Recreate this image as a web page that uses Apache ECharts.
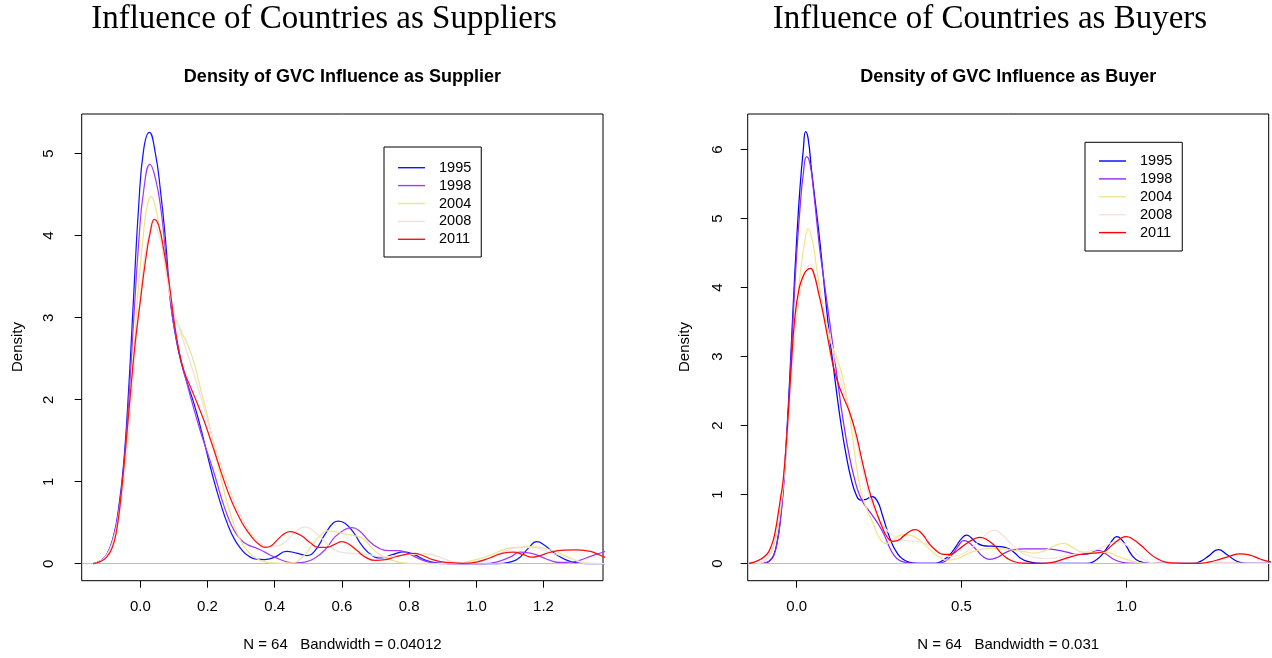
<!DOCTYPE html>
<html>
<head>
<meta charset="utf-8">
<script src="https://cdn.jsdelivr.net/npm/echarts@6/dist/echarts.min.js"></script>
<style>
  html, body { margin: 0; padding: 0; background: #ffffff; }
  #chart { width: 1272px; height: 658px; }
</style>
</head>
<body>
<div id="chart"></div>
<script>
// Series names shown in both legends
const years = ['1995', '1998', '2004', '2008', '2011'];

// Kernel density estimates of GVC influence as supplier: [influence, density]
const supplier1995 = [[-0.14,0],[-0.12,0.03],[-0.1,0.11],[-0.08,0.33],[-0.065,0.66],[-0.05,1.2],[-0.035,2.1],[-0.02,3.25],[-0.005,4.35],[0.01,5.05],[0.027,5.26],[0.045,5.0],[0.06,4.55],[0.075,3.95],[0.09,3.2],[0.105,2.78],[0.12,2.48],[0.14,2.2],[0.16,1.95],[0.18,1.65],[0.2,1.32],[0.22,1.0],[0.24,0.72],[0.26,0.48],[0.28,0.3],[0.3,0.18],[0.32,0.1],[0.345,0.055],[0.37,0.05],[0.4,0.08],[0.435,0.15],[0.465,0.13],[0.495,0.1],[0.52,0.16],[0.55,0.36],[0.575,0.5],[0.59,0.52],[0.61,0.49],[0.635,0.38],[0.66,0.22],[0.69,0.1],[0.715,0.07],[0.75,0.11],[0.785,0.145],[0.815,0.11],[0.85,0.04],[0.88,0.01],[0.92,0],[1.06,0],[1.1,0.02],[1.13,0.08],[1.155,0.19],[1.18,0.27],[1.205,0.22],[1.235,0.12],[1.265,0.05],[1.3,0.01],[1.33,0],[1.4,0]];
const supplier1998 = [[-0.14,0],[-0.12,0.03],[-0.1,0.11],[-0.08,0.32],[-0.065,0.63],[-0.05,1.15],[-0.035,1.95],[-0.02,2.95],[-0.005,3.9],[0.01,4.55],[0.029,4.87],[0.045,4.7],[0.062,4.3],[0.075,3.8],[0.088,3.25],[0.1,2.9],[0.12,2.5],[0.14,2.18],[0.16,1.88],[0.18,1.6],[0.2,1.35],[0.22,1.1],[0.24,0.82],[0.26,0.58],[0.28,0.4],[0.3,0.29],[0.32,0.23],[0.34,0.2],[0.36,0.165],[0.38,0.12],[0.4,0.08],[0.43,0.03],[0.46,0.01],[0.49,0.02],[0.52,0.07],[0.55,0.17],[0.58,0.33],[0.61,0.42],[0.63,0.44],[0.655,0.39],[0.68,0.28],[0.71,0.19],[0.74,0.16],[0.77,0.16],[0.8,0.12],[0.83,0.06],[0.86,0.02],[0.9,0],[1.02,0],[1.06,0.02],[1.1,0.08],[1.13,0.14],[1.16,0.13],[1.19,0.09],[1.22,0.04],[1.25,0.015],[1.28,0.02],[1.31,0.045],[1.34,0.09],[1.376,0.14],[1.42,0.2]];
const supplier2004 = [[-0.14,0],[-0.12,0.03],[-0.1,0.1],[-0.08,0.3],[-0.065,0.58],[-0.05,1.05],[-0.035,1.75],[-0.02,2.55],[-0.005,3.4],[0.01,4.05],[0.02,4.35],[0.032,4.48],[0.045,4.35],[0.06,4.0],[0.075,3.6],[0.09,3.25],[0.105,3.0],[0.12,2.85],[0.14,2.68],[0.16,2.45],[0.18,2.12],[0.2,1.8],[0.22,1.42],[0.24,1.05],[0.26,0.72],[0.28,0.46],[0.3,0.27],[0.32,0.15],[0.34,0.08],[0.36,0.035],[0.39,0.01],[0.42,0.004],[0.45,0.01],[0.48,0.07],[0.51,0.22],[0.535,0.34],[0.555,0.4],[0.58,0.39],[0.61,0.36],[0.64,0.34],[0.665,0.3],[0.69,0.19],[0.72,0.09],[0.75,0.04],[0.78,0.01],[0.82,0],[0.92,0],[0.96,0.015],[1.0,0.05],[1.04,0.1],[1.08,0.17],[1.12,0.2],[1.16,0.21],[1.2,0.19],[1.24,0.14],[1.28,0.07],[1.31,0.02],[1.34,0],[1.4,0]];
const supplier2008 = [[-0.14,0],[-0.12,0.03],[-0.1,0.1],[-0.08,0.28],[-0.065,0.53],[-0.05,0.95],[-0.035,1.55],[-0.02,2.3],[-0.005,3.05],[0.01,3.65],[0.025,4.0],[0.04,4.13],[0.055,4.02],[0.07,3.72],[0.085,3.35],[0.1,3.08],[0.12,2.82],[0.14,2.57],[0.17,2.17],[0.2,1.75],[0.23,1.33],[0.26,0.97],[0.29,0.66],[0.32,0.43],[0.35,0.28],[0.38,0.21],[0.41,0.22],[0.44,0.3],[0.465,0.4],[0.49,0.45],[0.515,0.4],[0.545,0.29],[0.575,0.18],[0.605,0.135],[0.64,0.125],[0.68,0.11],[0.72,0.085],[0.76,0.095],[0.8,0.11],[0.85,0.12],[0.89,0.08],[0.93,0.025],[0.97,0.01],[1.01,0.03],[1.05,0.09],[1.09,0.16],[1.13,0.2],[1.17,0.2],[1.21,0.15],[1.25,0.1],[1.29,0.05],[1.33,0.01],[1.4,0]];
const supplier2011 = [[-0.14,0],[-0.12,0.025],[-0.1,0.08],[-0.083,0.2],[-0.07,0.42],[-0.058,0.8],[-0.045,1.35],[-0.03,2.05],[-0.015,2.7],[0.0,3.2],[0.015,3.68],[0.03,4.05],[0.042,4.2],[0.055,4.12],[0.07,3.82],[0.085,3.45],[0.1,2.98],[0.115,2.6],[0.13,2.35],[0.15,2.15],[0.17,1.95],[0.19,1.74],[0.21,1.5],[0.23,1.25],[0.25,1.0],[0.27,0.78],[0.29,0.6],[0.31,0.45],[0.335,0.31],[0.355,0.23],[0.372,0.2],[0.39,0.22],[0.41,0.3],[0.43,0.37],[0.445,0.39],[0.46,0.38],[0.48,0.34],[0.505,0.26],[0.53,0.2],[0.555,0.2],[0.58,0.24],[0.6,0.27],[0.62,0.24],[0.645,0.16],[0.67,0.08],[0.7,0.04],[0.73,0.05],[0.76,0.085],[0.79,0.115],[0.815,0.125],[0.84,0.1],[0.87,0.05],[0.91,0.015],[0.96,0.005],[1.0,0.02],[1.04,0.07],[1.08,0.13],[1.11,0.14],[1.14,0.11],[1.165,0.08],[1.19,0.1],[1.22,0.14],[1.26,0.165],[1.3,0.17],[1.34,0.15],[1.37,0.1],[1.4,0.05]];

// Kernel density estimates of GVC influence as buyer: [influence, density]
const buyer1995 = [[-0.1,0],[-0.09,0.015],[-0.08,0.05],[-0.07,0.12],[-0.06,0.3],[-0.05,0.62],[-0.04,1.15],[-0.03,1.9],[-0.02,2.8],[-0.01,3.8],[0.0,4.7],[0.01,5.45],[0.02,6.0],[0.027,6.26],[0.035,6.15],[0.045,5.7],[0.06,5.1],[0.07,4.68],[0.08,4.2],[0.09,3.72],[0.1,3.28],[0.11,2.9],[0.12,2.52],[0.135,2.0],[0.15,1.57],[0.165,1.23],[0.18,1.0],[0.193,0.92],[0.21,0.93],[0.228,0.97],[0.245,0.9],[0.26,0.7],[0.275,0.47],[0.29,0.28],[0.305,0.15],[0.32,0.07],[0.34,0.02],[0.37,0],[0.42,0],[0.445,0.05],[0.465,0.13],[0.485,0.26],[0.5,0.36],[0.516,0.41],[0.53,0.37],[0.546,0.3],[0.565,0.26],[0.59,0.25],[0.617,0.245],[0.64,0.22],[0.66,0.16],[0.678,0.08],[0.7,0.03],[0.73,0.005],[0.76,0],[0.88,0],[0.905,0.04],[0.925,0.12],[0.945,0.25],[0.96,0.35],[0.971,0.39],[0.985,0.35],[1.0,0.25],[1.02,0.1],[1.04,0.03],[1.06,0.005],[1.09,0],[1.2,0],[1.225,0.03],[1.25,0.11],[1.279,0.2],[1.305,0.13],[1.325,0.06],[1.345,0.015],[1.37,0],[1.44,0]];
const buyer1998 = [[-0.1,0],[-0.09,0.015],[-0.08,0.045],[-0.07,0.11],[-0.06,0.28],[-0.05,0.6],[-0.04,1.1],[-0.03,1.8],[-0.02,2.7],[-0.01,3.65],[0.0,4.5],[0.01,5.15],[0.02,5.65],[0.03,5.9],[0.04,5.8],[0.05,5.45],[0.06,5.0],[0.07,4.55],[0.08,4.2],[0.09,3.85],[0.1,3.5],[0.11,3.15],[0.12,2.8],[0.14,2.1],[0.16,1.55],[0.177,1.2],[0.19,1.0],[0.207,0.84],[0.22,0.76],[0.232,0.68],[0.25,0.55],[0.265,0.42],[0.28,0.25],[0.295,0.12],[0.31,0.05],[0.33,0.015],[0.36,0],[0.43,0],[0.45,0.03],[0.47,0.12],[0.49,0.25],[0.506,0.33],[0.52,0.31],[0.545,0.2],[0.565,0.1],[0.586,0.06],[0.61,0.09],[0.63,0.15],[0.66,0.2],[0.69,0.21],[0.72,0.21],[0.76,0.21],[0.79,0.195],[0.82,0.165],[0.85,0.13],[0.875,0.13],[0.9,0.17],[0.915,0.19],[0.935,0.15],[0.955,0.08],[0.98,0.025],[1.01,0.005],[1.05,0],[1.44,0]];
const buyer2004 = [[-0.12,0],[-0.1,0.03],[-0.085,0.1],[-0.07,0.24],[-0.056,0.55],[-0.045,0.95],[-0.03,1.8],[-0.015,2.78],[0.0,3.68],[0.012,4.25],[0.024,4.65],[0.035,4.85],[0.047,4.7],[0.06,4.3],[0.075,3.85],[0.09,3.45],[0.105,3.18],[0.12,3.0],[0.135,2.78],[0.15,2.45],[0.165,2.0],[0.18,1.45],[0.195,1.05],[0.21,0.82],[0.23,0.6],[0.25,0.38],[0.27,0.29],[0.29,0.33],[0.31,0.4],[0.33,0.42],[0.355,0.39],[0.38,0.31],[0.405,0.2],[0.43,0.1],[0.455,0.05],[0.48,0.06],[0.51,0.12],[0.54,0.18],[0.57,0.21],[0.6,0.22],[0.63,0.21],[0.66,0.19],[0.69,0.17],[0.72,0.15],[0.75,0.18],[0.78,0.25],[0.81,0.29],[0.835,0.24],[0.86,0.17],[0.89,0.155],[0.92,0.165],[0.945,0.16],[0.97,0.11],[1.0,0.06],[1.03,0.02],[1.06,0],[1.44,0]];
const buyer2008 = [[-0.12,0],[-0.1,0.04],[-0.085,0.11],[-0.07,0.28],[-0.055,0.65],[-0.04,1.2],[-0.025,2.05],[-0.01,3.05],[0.005,3.75],[0.02,4.15],[0.033,4.3],[0.042,4.33],[0.055,4.18],[0.07,3.9],[0.085,3.6],[0.1,3.3],[0.12,2.9],[0.14,2.55],[0.16,2.2],[0.18,1.8],[0.2,1.35],[0.22,0.98],[0.24,0.72],[0.26,0.56],[0.28,0.45],[0.3,0.38],[0.33,0.33],[0.36,0.32],[0.39,0.29],[0.415,0.22],[0.44,0.14],[0.47,0.1],[0.5,0.13],[0.53,0.22],[0.56,0.36],[0.585,0.46],[0.6,0.48],[0.62,0.43],[0.647,0.3],[0.675,0.18],[0.7,0.12],[0.73,0.08],[0.76,0.07],[0.8,0.09],[0.84,0.13],[0.88,0.17],[0.92,0.22],[0.95,0.29],[0.971,0.32],[0.995,0.28],[1.02,0.19],[1.045,0.08],[1.07,0.02],[1.1,0],[1.44,0]];
const buyer2011 = [[-0.145,0],[-0.132,0.015],[-0.11,0.06],[-0.091,0.13],[-0.08,0.22],[-0.071,0.34],[-0.063,0.52],[-0.056,0.73],[-0.048,0.98],[-0.041,1.21],[-0.03,1.85],[-0.018,2.75],[-0.005,3.6],[0.008,4.0],[0.02,4.17],[0.03,4.25],[0.042,4.28],[0.052,4.2],[0.065,3.95],[0.079,3.65],[0.095,3.25],[0.11,2.88],[0.125,2.62],[0.14,2.43],[0.16,2.2],[0.18,1.88],[0.195,1.56],[0.21,1.25],[0.225,0.98],[0.243,0.73],[0.26,0.52],[0.275,0.38],[0.29,0.32],[0.305,0.33],[0.325,0.4],[0.345,0.47],[0.36,0.49],[0.38,0.43],[0.4,0.3],[0.42,0.2],[0.445,0.13],[0.465,0.13],[0.49,0.2],[0.515,0.29],[0.54,0.36],[0.556,0.38],[0.575,0.35],[0.6,0.26],[0.62,0.15],[0.64,0.07],[0.66,0.025],[0.69,0.005],[0.74,0],[0.78,0.02],[0.82,0.08],[0.86,0.13],[0.9,0.15],[0.93,0.17],[0.96,0.28],[0.985,0.37],[1.0,0.39],[1.02,0.35],[1.045,0.26],[1.07,0.15],[1.09,0.08],[1.12,0.02],[1.15,0.005],[1.22,0],[1.25,0.02],[1.28,0.055],[1.31,0.1],[1.345,0.14],[1.375,0.12],[1.406,0.065],[1.43,0.03],[1.46,0.01]];

// Axis tick values
const supplierXTicks = [0, 0.2, 0.4, 0.6, 0.8, 1.0, 1.2];
const supplierYTicks = [0, 1, 2, 3, 4, 5];
const buyerXTicks = [0, 0.5, 1.0];
const buyerYTicks = [0, 1, 2, 3, 4, 5, 6];

const supplierSeries = [supplier1995, supplier1998, supplier2004, supplier2008, supplier2011];
const buyerSeries = [buyer1995, buyer1998, buyer2004, buyer2008, buyer2011];

const supplierColors = ['#1414ff', '#a43cf2', '#f0e28a', '#ece2da', '#ff1010'];
const buyerColors = ['#0000ff', '#9428f5', '#f2e48a', '#f4e2dc', '#ff0000'];

const FONT = '"Liberation Sans", Arial, Helvetica, sans-serif';
const SERIF = '"Liberation Serif", "Times New Roman", serif';

function xAxisFor(gridIndex, min, max, ticks, digits) {
  return {
    type: 'value', gridIndex, min, max,
    axisLine: { show: false, onZero: false },
    splitLine: { show: false },
    axisTick: { show: true, customValues: ticks, length: 7, lineStyle: { color: '#000', width: 1 } },
    axisLabel: { customValues: ticks, formatter: v => v.toFixed(digits), color: '#000', fontSize: 15, fontFamily: FONT, margin: 19 }
  };
}
function yAxisFor(gridIndex, min, max, ticks, margin) {
  return {
    type: 'value', gridIndex, min, max,
    axisLine: { show: false, onZero: false },
    splitLine: { show: false },
    axisTick: { show: true, customValues: ticks, length: 7, lineStyle: { color: '#000', width: 1 } },
    axisLabel: { customValues: ticks, formatter: v => String(v), rotate: 90, color: '#000', fontSize: 15, fontFamily: FONT, margin }
  };
}

function densitySeries(list, colors, gridIdx) {
  return list.map((data, i) => {
    const s = {
      name: years[i], type: 'line', data,
      xAxisIndex: gridIdx, yAxisIndex: gridIdx,
      showSymbol: false, symbol: 'none',
      smooth: 0.5,
      lineStyle: { color: colors[i], width: 1.25 },
      itemStyle: { color: colors[i] },
      emphasis: { disabled: true },
      z: 3 + i
    };
    if (i === 0) {
      // horizontal reference line at zero density
      s.markLine = {
        silent: true, symbol: 'none', animation: false,
        label: { show: false },
        lineStyle: { color: '#bebebe', type: 'solid', width: 1.2 },
        data: [{ yAxis: 0 }]
      };
    }
    return s;
  });
}

function legendFor(left, top, colors, padding) {
  return {
    orient: 'vertical', left, top, padding,
    borderColor: '#000', borderWidth: 1, borderRadius: 0,
    itemWidth: 27, itemHeight: 1.4, itemGap: 2.9,
    icon: 'rect', selectedMode: false,
    textStyle: { color: '#000', fontSize: 14.5, fontFamily: FONT, lineHeight: 15, padding: [0, 0, 0, 9] },
    data: years.map((y, i) => ({ name: y, itemStyle: { color: colors[i] } }))
  };
}

const chart = echarts.init(document.getElementById('chart'), null, { renderer: 'canvas' });

chart.setOption({
  animation: false,
  backgroundColor: '#ffffff',
  grid: [
    { left: 81.7, top: 114, width: 521.3, height: 466.7, show: true, borderColor: '#000', borderWidth: 1, backgroundColor: 'transparent', containLabel: false },
    { left: 747.7, top: 114, width: 521, height: 466.7, show: true, borderColor: '#000', borderWidth: 1, backgroundColor: 'transparent', containLabel: false }
  ],
  xAxis: [
    xAxisFor(0, -0.1744, 1.377, supplierXTicks, 1),
    xAxisFor(1, -0.1487, 1.432, buyerXTicks, 1)
  ],
  yAxis: [
    yAxisFor(0, -0.207, 5.484, supplierYTicks, 25),
    yAxisFor(1, -0.25, 6.517, buyerYTicks, 22)
  ],
  legend: [
    legendFor(384, 147, supplierColors, [13.2, 10, 10.2, 14]),
    legendFor(1085, 142.3, buyerColors, [11.2, 10, 10.9, 14])
  ],
  graphic: [
    { type: 'text', x: 324, y: 19, style: { text: 'Influence of Countries as Suppliers', font: '33px ' + SERIF, fill: '#000', textAlign: 'center', textVerticalAlign: 'middle' } },
    { type: 'text', x: 990, y: 19, style: { text: 'Influence of Countries as Buyers', font: '33px ' + SERIF, fill: '#000', textAlign: 'center', textVerticalAlign: 'middle' } },
    { type: 'text', x: 342.4, y: 77, style: { text: 'Density of GVC Influence as Supplier', font: 'bold 18px ' + FONT, fill: '#000', textAlign: 'center', textVerticalAlign: 'middle' } },
    { type: 'text', x: 1008.2, y: 77, style: { text: 'Density of GVC Influence as Buyer', font: 'bold 18px ' + FONT, fill: '#000', textAlign: 'center', textVerticalAlign: 'middle' } },
    { type: 'text', x: 18, y: 347, rotation: Math.PI / 2, style: { text: 'Density', font: '15px ' + FONT, fill: '#000', textAlign: 'center', textVerticalAlign: 'middle' } },
    { type: 'text', x: 685, y: 347, rotation: Math.PI / 2, style: { text: 'Density', font: '15px ' + FONT, fill: '#000', textAlign: 'center', textVerticalAlign: 'middle' } },
    { type: 'text', x: 342.4, y: 645, style: { text: 'N = 64   Bandwidth = 0.04012', font: '15px ' + FONT, fill: '#000', textAlign: 'center', textVerticalAlign: 'middle' } },
    { type: 'text', x: 1008.2, y: 645, style: { text: 'N = 64   Bandwidth = 0.031', font: '15px ' + FONT, fill: '#000', textAlign: 'center', textVerticalAlign: 'middle' } }
  ],
  series: [
    ...densitySeries(supplierSeries, supplierColors, 0),
    ...densitySeries(buyerSeries, buyerColors, 1)
  ]
});
</script>
</body>
</html>
